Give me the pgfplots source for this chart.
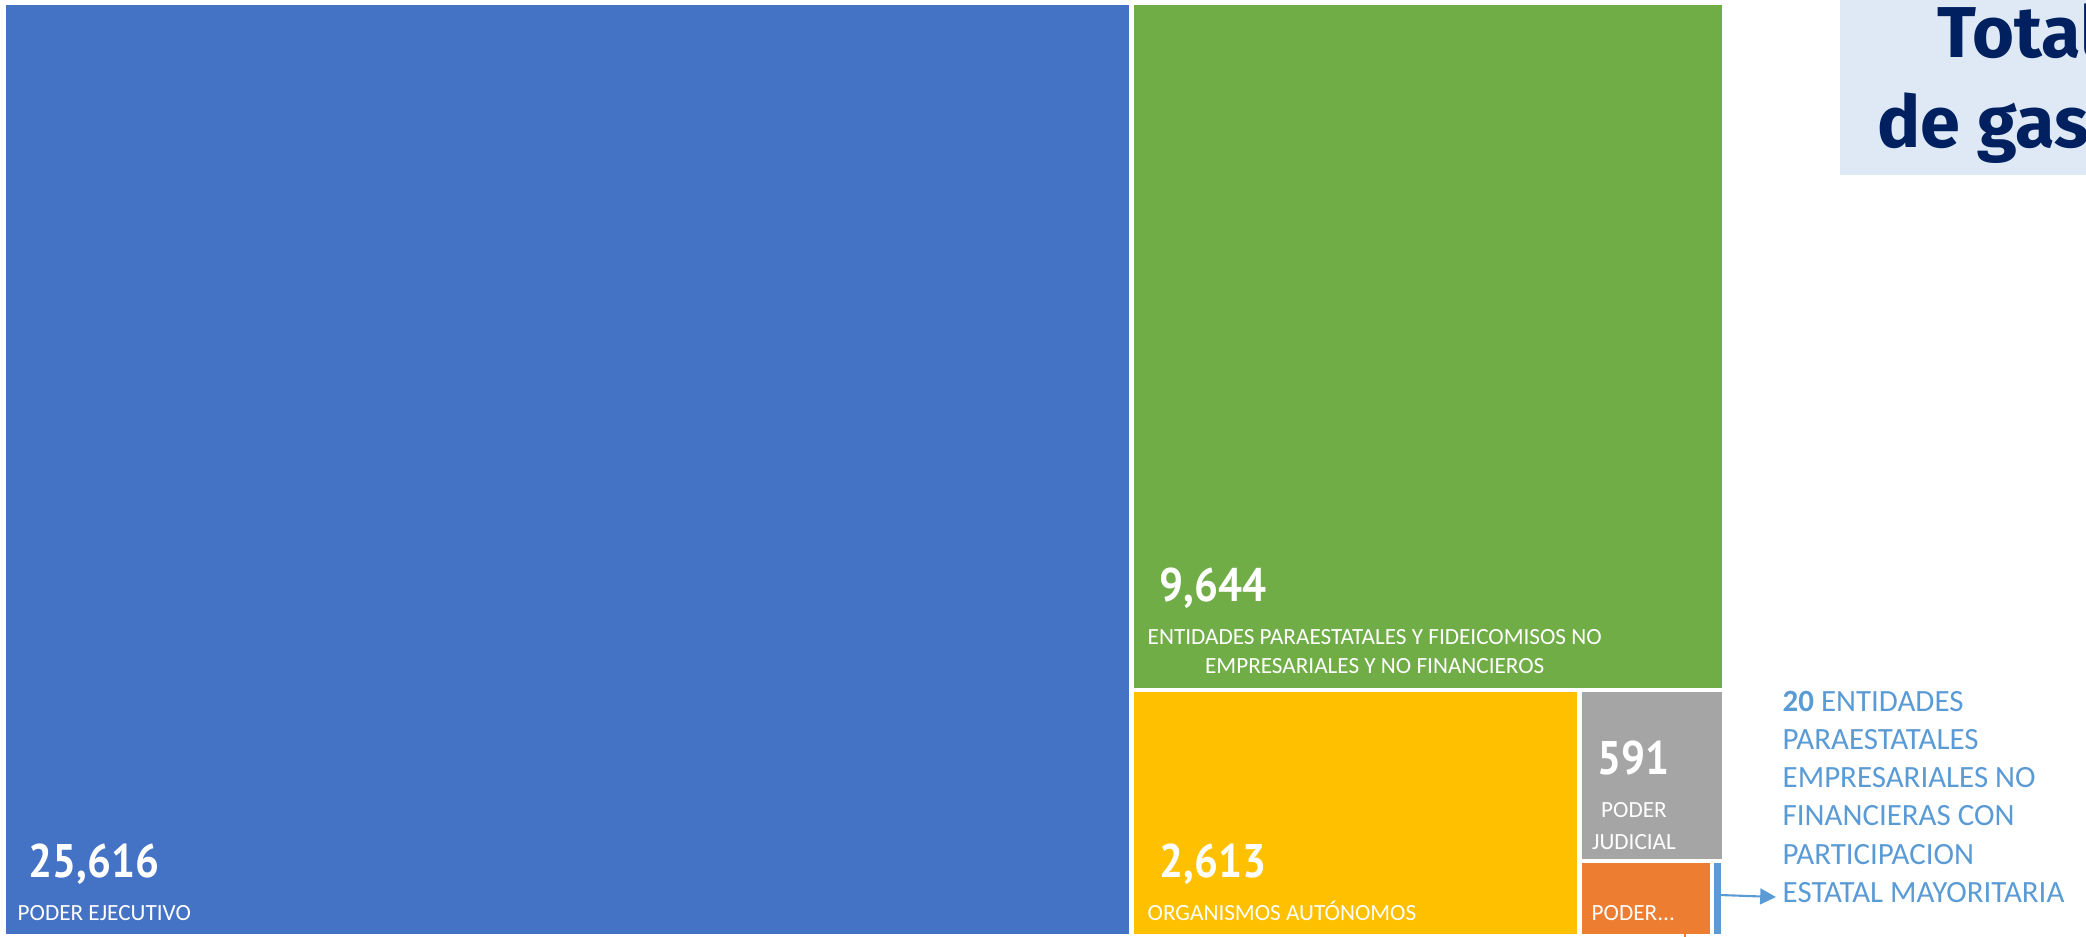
\documentclass[border=0pt]{standalone}
\usepackage{pgfplots}
\pgfplotsset{compat=1.18}
\usepackage{fontspec}
\setmainfont{Carlito}
\newfontfamily\numfont[FakeStretch=0.9]{PT Sans}
\newfontfamily\titlefont{Fira Sans}
\usetikzlibrary{arrows.meta}

\definecolor{cBlue}{HTML}{4472C4}
\definecolor{cGreen}{HTML}{70AD47}
\definecolor{cYellow}{HTML}{FFC000}
\definecolor{cGray}{HTML}{A5A5A5}
\definecolor{cOrange}{HTML}{ED7D31}
\definecolor{cLight}{HTML}{5B9BD5}
\definecolor{cNavy}{HTML}{002060}
\definecolor{cBox}{HTML}{DEE9F5}

% treemap tiles: x0 y0 x1 y1 (pixel grid of the 2086x936 picture, y downwards)
\begin{document}
\begin{tikzpicture}
\begin{axis}[
    width=20.86cm, height=9.36cm, scale only axis,
    xmin=0, xmax=2086, ymin=0, ymax=936, y dir=reverse,
    hide axis, clip=true
]
\coordinate (sw) at (axis cs:0,936);
\coordinate (ne) at (axis cs:2086,0);
% title box (cut by the right edge)
\addplot[fill=cBox, draw=none] coordinates {(1840,-5) (2200,-5) (2200,175) (1840,175)} --cycle;
\node[anchor=base west, text=cNavy, font=\titlefont\bfseries\fontsize{20.5}{24}\selectfont, inner sep=0pt] at (axis cs:1937,57) {Total};
\node[anchor=base west, text=cNavy, font=\titlefont\bfseries\fontsize{20.5}{24}\selectfont, inner sep=0pt] at (axis cs:1877,147) {de gasto};

% tiles
\addplot[fill=cBlue, draw=none]   coordinates {(6,5) (1129,5) (1129,934) (6,934)} --cycle;
\addplot[fill=cGreen, draw=none]  coordinates {(1134,5) (1722,5) (1722,688) (1134,688)} --cycle;
\addplot[fill=cYellow, draw=none] coordinates {(1134,692) (1577,692) (1577,934) (1134,934)} --cycle;
\addplot[fill=cGray, draw=none]   coordinates {(1582,692) (1722,692) (1722,859) (1582,859)} --cycle;
\addplot[fill=cOrange, draw=none] coordinates {(1582,863) (1710,863) (1710,934) (1582,934)} --cycle;
\addplot[fill=cLight, draw=none]  coordinates {(1714,863) (1721,863) (1721,934) (1714,934)} --cycle;
\addplot[cOrange, line width=0.6pt] coordinates {(1685,934) (1685,940)};

% arrow to the callout
\addplot[cLight, line width=0.6pt, -{Triangle[length=4.5pt, width=4.5pt]}] coordinates {(1721,895) (1776,897)};

% values
\tikzset{val/.style={anchor=base west, text=white, inner sep=0pt, font=\numfont\bfseries\fontsize{13.4}{16}\selectfont},
         lab/.style={anchor=base west, text=white, inner sep=0pt, font=\fontsize{6.6}{8.2}\selectfont}}
\node[val] at (axis cs:28,877) {25,616};
\node[lab] at (axis cs:17,920) {PODER EJECUTIVO};
\node[val] at (axis cs:1159,601) {9,644};
\node[lab, anchor=north west, align=center, yshift=4.4pt] at (axis cs:1147,644) {ENTIDADES PARAESTATALES Y FIDEICOMISOS NO\\EMPRESARIALES Y NO FINANCIEROS};
\node[val] at (axis cs:1159,877) {2,613};
\node[lab] at (axis cs:1147,920) {ORGANISMOS AUTÓNOMOS};
\node[val] at (axis cs:1597,774) {591};
\node[lab, anchor=base] at (axis cs:1634,817) {PODER};
\node[lab, anchor=base] at (axis cs:1634,849) {JUDICIAL};
\node[lab] at (axis cs:1591,920) {PODER...};

% callout
\node[anchor=north west, inner sep=0pt, align=left, text=cLight, font=\fontsize{8.8}{10.9}\selectfont] at (axis cs:1782,690)
  {\textbf{20} ENTIDADES\\PARAESTATALES\\EMPRESARIALES NO\\FINANCIERAS CON\\PARTICIPACION\\ESTATAL MAYORITARIA};
\end{axis}
\pgfresetboundingbox
\useasboundingbox (sw) rectangle (ne);
\end{tikzpicture}
\end{document}
